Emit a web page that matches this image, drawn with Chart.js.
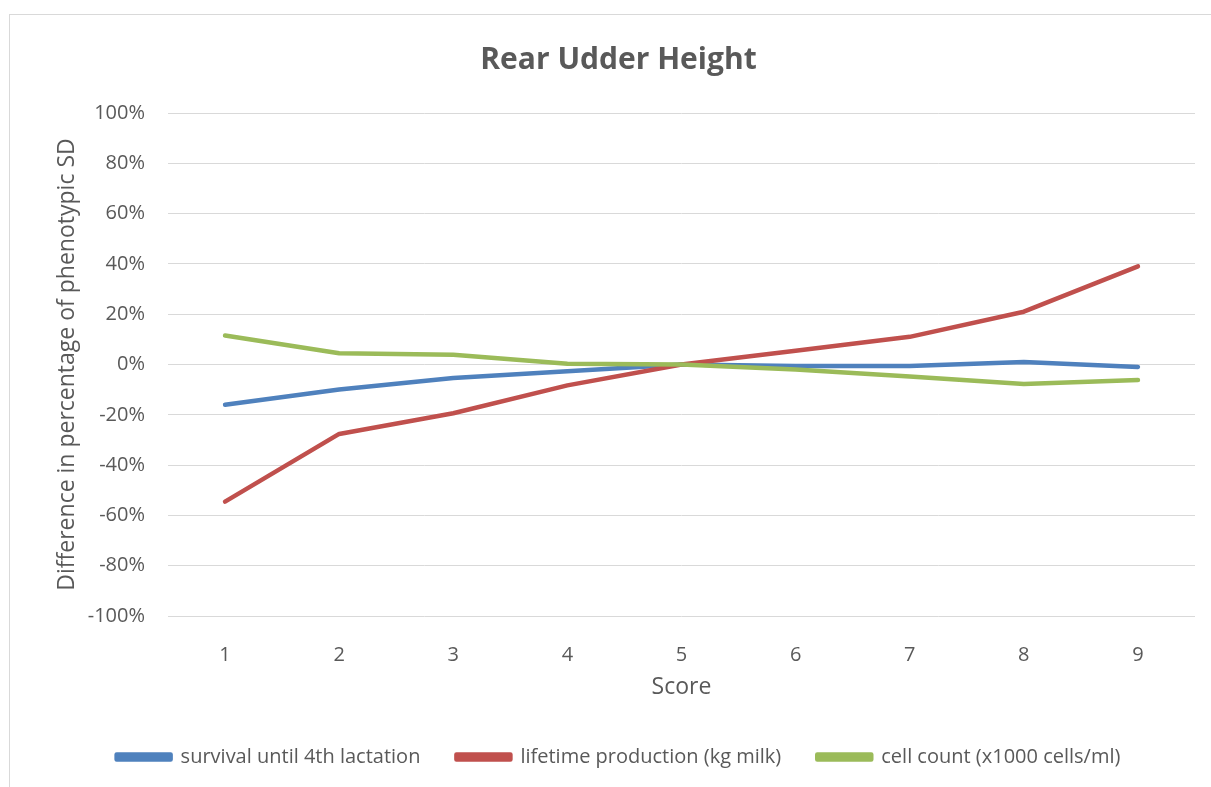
<!DOCTYPE html>
<html>
<head>
<meta charset="utf-8">
<script src="https://cdn.jsdelivr.net/npm/chart.js@4"></script>
<style>
  html, body { margin: 0; padding: 0; background: #fff; overflow: hidden; }
  #wrap { position: relative; width: 1211px; height: 787px; }
  #frame { position: absolute; left: 9px; top: 14px; width: 1220px; height: 800px; border: 1px solid #d9d9d9; box-sizing: border-box; }
  canvas { position: absolute; left: 0; top: 0; }
</style>
</head>
<body>
<div id="wrap">
  <div id="frame"></div>
  <canvas id="myChart" width="1211" height="787"></canvas>
</div>
<script>
// values (percent of phenotypic SD)
const scores = ['1', '2', '3', '4', '5', '6', '7', '8', '9'];
const survival = [-16, -9.9, -5.4, -2.7, 0, -0.6, -0.6, 1, -1];
const lifetimeProduction = [-54.5, -27.6, -19.4, -8.3, 0, 5.5, 11, 21, 39];
const cellCount = [11.5, 4.5, 3.9, 0.3, 0, -2, -4.8, -7.8, -6.2];

const textColor = '#595959';
const fontFamily = '"Open Sans", Lato, sans-serif';

const ctx = document.getElementById('myChart').getContext('2d');

function series(label, data, color, order) {
    return {
        label: label,
        data: data,
        borderColor: color,
        backgroundColor: color,
        borderWidth: 4.5,
        pointRadius: 0,
        tension: 0,
        borderCapStyle: 'round',
        borderJoinStyle: 'round',
        order: order
    };
}

new Chart(ctx, {
    type: 'line',
    data: {
        labels: scores,
        datasets: [
            series('survival until 4th lactation', survival, '#4f81bd', 3),
            series('lifetime production (kg milk)', lifetimeProduction, '#c0504d', 2),
            series('cell count (x1000 cells/ml)', cellCount, '#9bbb59', 1)
        ]
    },
    options: {
        responsive: false,
        animation: false,
        layout: { padding: { left: 26, right: 0, top: 0, bottom: 10 } },
        plugins: {
            title: {
                display: true,
                text: 'Rear Udder Height',
                color: textColor,
                font: { family: fontFamily, size: 30, weight: 'bold' },
                padding: { top: 42, bottom: 35 }
            },
            legend: {
                position: 'bottom',
                labels: {
                    color: textColor,
                    font: { family: fontFamily, size: 20 },
                    boxWidth: 54,
                    boxHeight: 5,
                    padding: 36,
                    sort: (a, b) => a.datasetIndex - b.datasetIndex
                }
            },
            tooltip: { enabled: false }
        },
        scales: {
            x: {
                offset: true,
                grid: { display: false },
                border: { display: false },
                ticks: { color: textColor, font: { family: fontFamily, size: 20 }, padding: 19 },
                title: {
                    display: true,
                    text: 'Score',
                    color: textColor,
                    font: { family: fontFamily, size: 23 },
                    padding: { top: 0, bottom: 10 }
                },
                afterFit: (s) => { s.height = 95; }
            },
            y: {
                min: -100,
                max: 100,
                grid: { color: '#d9d9d9', lineWidth: 1, drawTicks: false },
                border: { display: false },
                ticks: {
                    stepSize: 20,
                    color: textColor,
                    font: { family: fontFamily, size: 20 },
                    padding: 23,
                    callback: (v) => v + '%'
                },
                title: {
                    display: true,
                    text: 'Difference in percentage of phenotypic SD',
                    color: textColor,
                    font: { family: fontFamily, size: 23 },
                    padding: { top: 28, bottom: 0 }
                },
                afterFit: (s) => { s.width = 142; }
            },
            y2: {
                position: 'right',
                display: true,
                grid: { display: false },
                border: { display: false },
                ticks: { display: false },
                afterFit: (s) => { s.width = 16; }
            }
        }
    }
});
</script>
</body>
</html>
